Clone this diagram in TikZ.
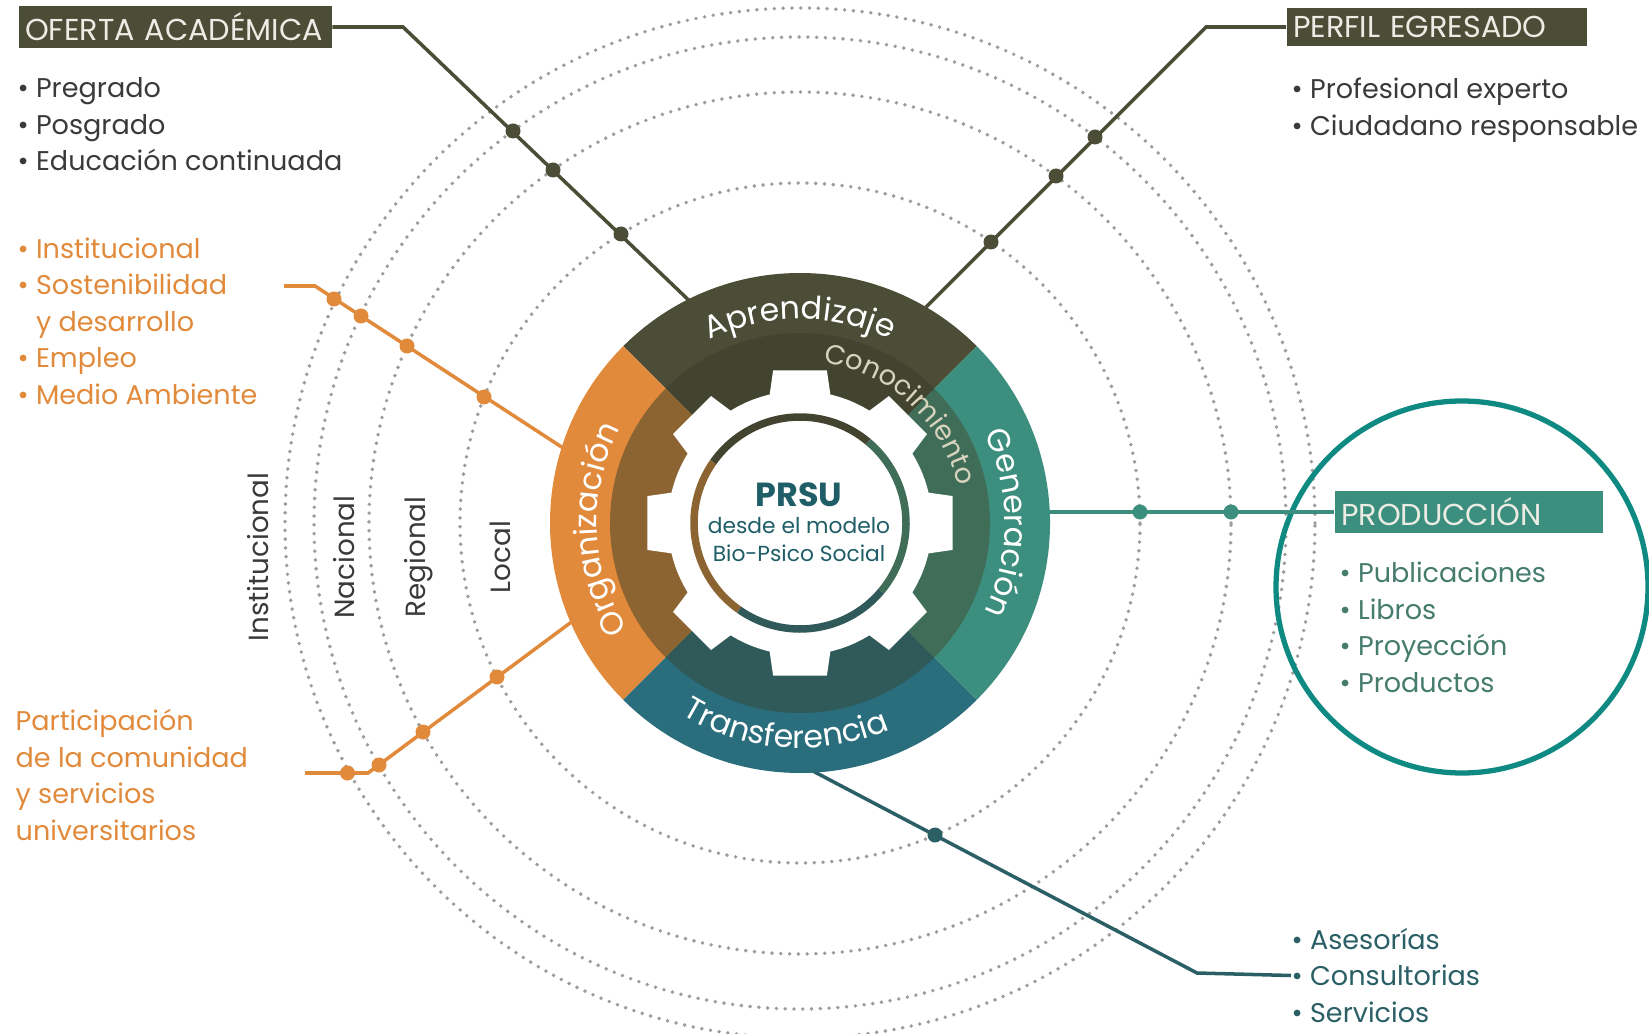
\documentclass[tikz,border=0pt]{standalone}
\usepackage{fontspec}
\setmainfont{Poppins}
\usepackage{tikz}
\usetikzlibrary{decorations.text}

\definecolor{aprendcol}{HTML}{4B4D37}
\definecolor{aprendin}{HTML}{42442F}
\definecolor{organcol}{HTML}{E18A3B}
\definecolor{organin}{HTML}{8B6431}
\definecolor{genercol}{HTML}{3C8F7E}
\definecolor{generin}{HTML}{3F6D58}
\definecolor{transcol}{HTML}{2A6E7D}
\definecolor{transin}{HTML}{2F5A59}
\definecolor{dotgray}{HTML}{9C9C9C}
\definecolor{listgray}{HTML}{3A3A3A}
\definecolor{prodtext}{HTML}{457C6D}
\definecolor{transtext}{HTML}{2B5F66}
\definecolor{ringteal}{HTML}{0E8A82}
\definecolor{prsucol}{HTML}{1F5E66}
\definecolor{boxtext}{HTML}{ECECE4}
\definecolor{conoccol}{HTML}{D8D3BC}

\tikzstyle{linedot}=[circle,inner sep=0,minimum size=0.15cm]
\tikzset{dotcirc/.style={draw=dotgray,line width=1.1pt,line cap=round,dash pattern=on 0pt off 2.5pt}}
\tikzset{link/.style={line width=1pt}}
\tikzset{ring/.style={line width=0.75mm}}
\tikzset{
  titlebox/.style={
    anchor=west,
    inner sep=0.065cm,
    minimum height=0.38cm,
    text=boxtext,
    font=\fontsize{8.6}{8.6}\selectfont,
    align=left
  }
}
\tikzset{bulletlist/.style={anchor=west,inner sep=0,align=left,font=\fontsize{7.7}{10.4}\selectfont}}
\tikzset{levellabel/.style={rotate=90,inner sep=0,text=listgray,font=\fontsize{7.9}{9}\selectfont}}
\tikzset{wheeltext/.style={decorate,decoration={text along path,text align=center,text={#1}}}}

\begin{document}
\begin{tikzpicture}

\useasboundingbox (0,0) rectangle (16.49,-10.34);

\coordinate (c) at (8.00,-5.23);

% levels
\draw[dotcirc] (c) circle (3.40);
\draw[dotcirc] (c) circle (4.31);
\draw[dotcirc] (c) circle (4.86);
\draw[dotcirc] (c) circle (5.15);

\node[levellabel] (institucional) at (2.58,-5.57) {Institucional};
\node[levellabel] (nacional) at (3.44,-5.57) {Nacional};
\node[levellabel] (regional) at (4.19,-5.57) {Regional};
\node[levellabel] (local) at (5.00,-5.57) {Local};

% boxes and lists
\node[titlebox,fill=aprendcol,text width=3.0cm] (oferta) at (0.18,-0.27) {OFERTA ACADÉMICA};
\node[titlebox,fill=aprendcol,text width=2.87cm] (perfil) at (12.86,-0.27) {PERFIL EGRESADO};
\node[titlebox,fill=genercol,text width=2.55cm] (produccion) at (13.34,-5.12) {PRODUCCIÓN};

\node[bulletlist,text=listgray] (ofertalist) at (0.17,-1.245) {• Pregrado\\• Posgrado\\• Educación continuada};
\node[bulletlist,text=listgray] (perfillist) at (12.91,-1.10) {• Profesional experto\\• Ciudadano responsable};
\node[bulletlist,text=organcol] (organlist) at (0.17,-3.21) {• Institucional\\• Sostenibilidad\\\phantom{• }y desarrollo\\• Empleo\\• Medio Ambiente};
\node[bulletlist,text=organcol] (partlist) at (0.15,-7.75) {Participación\\de la comunidad\\y servicios\\universitarios};
\node[bulletlist,text=prodtext] (prodlist) at (13.39,-6.275) {• Publicaciones\\• Libros\\• Proyección\\• Productos};
\node[bulletlist,text=transtext] (translist) at (12.91,-9.755) {• Asesorías\\• Consultorias\\• Servicios};

\draw[ringteal,line width=1.5pt] (14.62,-5.87) circle (1.86);

% connectors
\coordinate (obend) at (4.03,-0.27);
\coordinate (oend) at (6.99,-3.10);
\coordinate (pbend) at (12.06,-0.27);
\coordinate (pend) at (9.13,-3.20);
\coordinate (ustart) at (2.84,-2.86);
\coordinate (ubend) at (3.15,-2.86);
\coordinate (uend) at (5.83,-4.61);
\coordinate (lstart) at (3.05,-7.73);
\coordinate (lbend) at (3.68,-7.73);
\coordinate (lend) at (5.93,-6.06);
\coordinate (gstart) at (10.00,-5.12);
\coordinate (tstart) at (7.90,-7.59);
\coordinate (tbend) at (11.97,-9.73);

\draw[link,aprendcol] (oferta.east) -- (obend) -- (oend);
\draw[link,aprendcol] (perfil.west) -- (pbend) -- (pend);
\draw[link,organcol] (ustart) -- (ubend) -- (uend);
\draw[link,organcol] (lstart) -- (lbend) -- (lend);
\draw[link,genercol] (gstart) -- (produccion.west);
\draw[link,transtext] (tstart) -- (tbend) -- (translist.west);

\node[linedot,fill=aprendcol] (od1) at (5.13,-1.31) {};
\node[linedot,fill=aprendcol] (od2) at (5.53,-1.70) {};
\node[linedot,fill=aprendcol] (od3) at (6.21,-2.34) {};
\node[linedot,fill=aprendcol] (pd1) at (10.95,-1.37) {};
\node[linedot,fill=aprendcol] (pd2) at (10.56,-1.76) {};
\node[linedot,fill=aprendcol] (pd3) at (9.91,-2.42) {};
\node[linedot,fill=organcol] (ud1) at (3.34,-2.99) {};
\node[linedot,fill=organcol] (ud2) at (3.61,-3.16) {};
\node[linedot,fill=organcol] (ud3) at (4.07,-3.46) {};
\node[linedot,fill=organcol] (ud4) at (4.84,-3.97) {};
\node[linedot,fill=organcol] (ld1) at (3.475,-7.73) {};
\node[linedot,fill=organcol] (ld2) at (3.79,-7.65) {};
\node[linedot,fill=organcol] (ld3) at (4.23,-7.32) {};
\node[linedot,fill=organcol] (ld4) at (4.97,-6.77) {};
\node[linedot,fill=genercol] (gd1) at (11.40,-5.12) {};
\node[linedot,fill=genercol] (gd2) at (12.31,-5.12) {};
\node[linedot,fill=transtext] (td1) at (9.35,-8.35) {};

% wheel
\fill[aprendcol] (c) -- ([shift={(c)}]45:2.5) arc (45:135:2.5) -- cycle;
\fill[organcol] (c) -- ([shift={(c)}]135:2.5) arc (135:225:2.5) -- cycle;
\fill[transcol] (c) -- ([shift={(c)}]225:2.5) arc (225:315:2.5) -- cycle;
\fill[genercol] (c) -- ([shift={(c)}]-45:2.5) arc (-45:45:2.5) -- cycle;
\fill[aprendin] (c) -- ([shift={(c)}]45:1.9) arc (45:135:1.9) -- cycle;
\fill[organin] (c) -- ([shift={(c)}]135:1.9) arc (135:225:1.9) -- cycle;
\fill[transin] (c) -- ([shift={(c)}]225:1.9) arc (225:315:1.9) -- cycle;
\fill[generin] (c) -- ([shift={(c)}]-45:1.9) arc (-45:45:1.9) -- cycle;

\fill[white] (c) circle (1.32);
\fill[white] ([shift={(c)}]80:1.55) -- ([shift={(c)}]100:1.55) -- ([shift={(c)}]104:1.28) -- ([shift={(c)}]76:1.28) -- cycle;
\fill[white] ([shift={(c)}]35:1.55) -- ([shift={(c)}]55:1.55) -- ([shift={(c)}]59:1.28) -- ([shift={(c)}]31:1.28) -- cycle;
\fill[white] ([shift={(c)}]-10:1.55) -- ([shift={(c)}]10:1.55) -- ([shift={(c)}]14:1.28) -- ([shift={(c)}]-14:1.28) -- cycle;
\fill[white] ([shift={(c)}]-55:1.55) -- ([shift={(c)}]-35:1.55) -- ([shift={(c)}]-31:1.28) -- ([shift={(c)}]-59:1.28) -- cycle;
\fill[white] ([shift={(c)}]-100:1.55) -- ([shift={(c)}]-80:1.55) -- ([shift={(c)}]-76:1.28) -- ([shift={(c)}]-104:1.28) -- cycle;
\fill[white] ([shift={(c)}]-145:1.55) -- ([shift={(c)}]-125:1.55) -- ([shift={(c)}]-121:1.28) -- ([shift={(c)}]-149:1.28) -- cycle;
\fill[white] ([shift={(c)}]170:1.55) -- ([shift={(c)}]190:1.55) -- ([shift={(c)}]194:1.28) -- ([shift={(c)}]166:1.28) -- cycle;
\fill[white] ([shift={(c)}]125:1.55) -- ([shift={(c)}]145:1.55) -- ([shift={(c)}]149:1.28) -- ([shift={(c)}]121:1.28) -- cycle;

\draw[ring,draw=aprendin] ([shift={(c)}]50:1.06) arc (50:145:1.06);
\draw[ring,draw=organin] ([shift={(c)}]145:1.06) arc (145:235:1.06);
\draw[ring,draw=transin] ([shift={(c)}]235:1.06) arc (235:320:1.06);
\draw[ring,draw=generin] ([shift={(c)}]320:1.06) arc (320:410:1.06);

\path[wheeltext={|\fontsize{9}{9}\selectfont\color{white}|Aprendizaje}] ([shift={(c)}]140:2.04) arc (140:40:2.04);
\path[wheeltext={|\fontsize{9}{9}\selectfont\color{white}|Generación}] ([shift={(c)}]50:2.05) arc (50:-50:2.05);
\path[wheeltext={|\fontsize{9}{9}\selectfont\color{white}|Transferencia}] ([shift={(c)}]196:2.25) arc (196:336:2.25);
\path[wheeltext={|\fontsize{9}{9}\selectfont\color{white}|Organización}] ([shift={(c)}]232:2.03) arc (232:132:2.03);
\path[wheeltext={|\fontsize{7.8}{7.8}\selectfont\color{conoccol}|Conocimiento}] ([shift={(c)}]100:1.62) arc (100:-5:1.62);

\node[align=center,text=prsucol,font=\fontsize{6.2}{7.9}\selectfont] (prsu) at (7.99,-5.22) {{\fontsize{9.5}{7.9}\selectfont\bfseries PRSU}\\desde el modelo\\Bio-Psico Social};

\end{tikzpicture}
\end{document}
